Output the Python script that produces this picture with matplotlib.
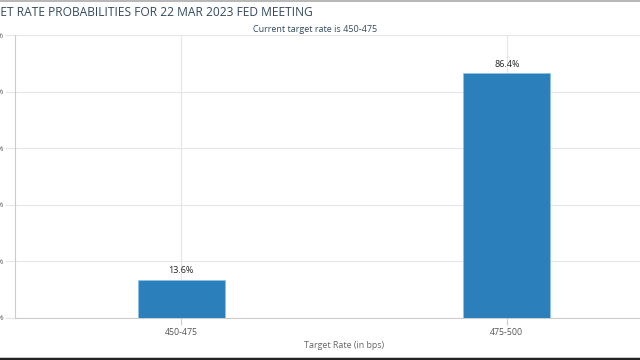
import matplotlib.pyplot as plt
from matplotlib.lines import Line2D

TITLE = "TARGET RATE PROBABILITIES FOR 22 MAR 2023 FED MEETING"
SUBTITLE = "Current target rate is 450-475"
categories = ["450-475", "475-500"]
probabilities = [13.6, 86.4]
y_ticks = [0, 20, 40, 60, 80, 100]

W, H = 640, 360
fig = plt.figure(figsize=(W / 100, H / 100), dpi=100)
fig.patch.set_facecolor("white")

# plot area runs past the right edge, as in the cropped screenshot
left, right, bottom, top = 15, 673, 318, 35
ax = fig.add_axes([left / W, 1 - bottom / H, (right - left) / W, (bottom - top) / H])

x = list(range(len(categories)))
bars = ax.bar(x, probabilities, width=0.267, color="#2b7fba",
              edgecolor="#8fc3e6", linewidth=0.6, zorder=3)
for bar, v in zip(bars, probabilities):
    ax.text(bar.get_x() + bar.get_width() / 2, v + 1.5, f"{v:.1f}%",
            ha="center", va="bottom", fontsize=6.5, color="#222222",
            family="Open Sans", zorder=4)

ax.set_xlim(-0.51, 1.51)
ax.set_ylim(0, 100)
ax.set_yticks(y_ticks)
ax.set_yticklabels([f"{t}%" for t in y_ticks], fontsize=6, color="#666666",
                   family="Open Sans")
ax.tick_params(axis="y", length=7, color="#e6e6e6", pad=1)
ax.set_xticks(x)
ax.set_xticklabels(categories, fontsize=6.3, color="#555555", family="Open Sans")
ax.tick_params(axis="x", length=5, color="#cccccc", pad=2)
ax.set_xlabel("Target Rate (in bps)", fontsize=6.4, color="#666666",
              family="Open Sans", labelpad=3)

ax.grid(True, color="#e6e6e6", linewidth=0.8, zorder=0)
for side in ("top", "right"):
    ax.spines[side].set_visible(False)
ax.spines["left"].set_color("#cccccc")
ax.spines["bottom"].set_color("#cccccc")

fig.text(313 / W, 1 - 12 / H, TITLE, fontsize=8.68, color="#34495e",
         family="Open Sans", ha="right", va="center")
fig.text(315 / W, 1 - 29 / H, SUBTITLE, fontsize=6.5, color="#34495e",
         family="Open Sans", ha="center", va="center")

# screenshot frame lines
fig.add_artist(Line2D([0, 1], [1 - 0.5 / H, 1 - 0.5 / H], color="#aaaaaa",
                      linewidth=1.2, transform=fig.transFigure))
fig.add_artist(Line2D([0, 1], [1.2 / H, 1.2 / H], color="#222222",
                      linewidth=2.5, transform=fig.transFigure))

fig.savefig("out.png", dpi=100)
